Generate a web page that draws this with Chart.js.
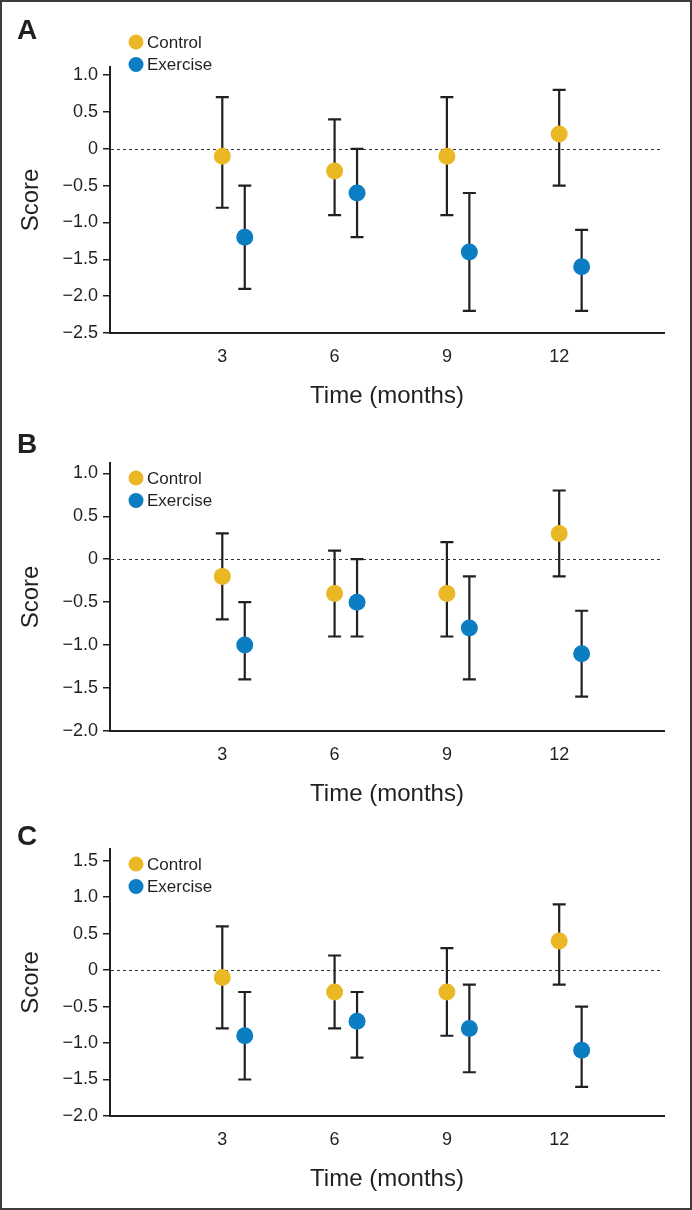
<!DOCTYPE html>
<html>
<head>
<meta charset="utf-8">
<title>Score over time</title>
<script src="https://cdn.jsdelivr.net/npm/chart.js@4.4.1/dist/chart.umd.min.js"></script>
<style>
  html, body { margin: 0; padding: 0; background: #fff; }
  #figure { position: relative; width: 692px; height: 1210px; overflow: hidden; font-family: 'Liberation Sans', Arial, sans-serif; }
  .panel { position: absolute; left: 0; width: 692px; }
  .panel canvas { display: block; }
  .letter { position: absolute; left: 17px; font-weight: bold; font-size: 28px; line-height: 1; color: #231f20; }
  #frame { position: absolute; left: 0; top: 0; right: 0; bottom: 0; border: 2px solid #3c3c3c; pointer-events: none; }
</style>
</head>
<body>
<div id="figure">
  <div class="panel" style="top:0;height:410px"><canvas id="chartA" width="692" height="410"></canvas></div>
  <div class="panel" style="top:410px;height:400px"><canvas id="chartB" width="692" height="400"></canvas></div>
  <div class="panel" style="top:810px;height:400px"><canvas id="chartC" width="692" height="400"></canvas></div>
  <div class="letter" style="top:16px">A</div>
  <div class="letter" style="top:430px">B</div>
  <div class="letter" style="top:822px">C</div>
  <div id="frame"></div>
</div>
<script>
// Time points (months); exercise group is drawn slightly to the right
const months = [3, 6, 9, 12];
const exerciseMonths = [3.6, 6.6, 9.6, 12.6];
const xTickValues = [3, 6, 9, 12];

// Panel A
const controlA = [-0.1, -0.3, -0.1, 0.2];
const controlALow = [-0.8, -0.9, -0.9, -0.5];
const controlAHigh = [0.7, 0.4, 0.7, 0.8];
const exerciseA = [-1.2, -0.6, -1.4, -1.6];
const exerciseALow = [-1.9, -1.2, -2.2, -2.2];
const exerciseAHigh = [-0.5, 0, -0.6, -1.1];
const yTicksA = [1.0, 0.5, 0, -0.5, -1.0, -1.5, -2.0, -2.5];

// Panel B
const controlB = [-0.2, -0.4, -0.4, 0.3];
const controlBLow = [-0.7, -0.9, -0.9, -0.2];
const controlBHigh = [0.3, 0.1, 0.2, 0.8];
const exerciseB = [-1.0, -0.5, -0.8, -1.1];
const exerciseBLow = [-1.4, -0.9, -1.4, -1.6];
const exerciseBHigh = [-0.5, 0, -0.2, -0.6];
const yTicksB = [1.0, 0.5, 0, -0.5, -1.0, -1.5, -2.0];

// Panel C
const controlC = [-0.1, -0.3, -0.3, 0.4];
const controlCLow = [-0.8, -0.8, -0.9, -0.2];
const controlCHigh = [0.6, 0.2, 0.3, 0.9];
const exerciseC = [-0.9, -0.7, -0.8, -1.1];
const exerciseCLow = [-1.5, -1.2, -1.4, -1.6];
const exerciseCHigh = [-0.3, -0.3, -0.2, -0.5];
const yTicksC = [1.5, 1.0, 0.5, 0, -0.5, -1.0, -1.5, -2.0];

const CONTROL_COLOR = '#E9B824';
const EXERCISE_COLOR = '#0B7DC2';
const INK = '#231f20';
const FONT = "'Liberation Sans', Arial, sans-serif";
const X_AXIS_HEIGHT = 75;

function toPoints(xs, ys) {
    return xs.map((x, i) => ({ x: x, y: ys[i] }));
}

function formatScore(v) {
    if (v === 0) return '0';
    return (v < 0 ? '\u2212' : '') + Math.abs(v).toFixed(1);
}

// error bars drawn under the markers
const errorBarPlugin = {
    id: 'errorBars',
    beforeDatasetsDraw(chart) {
        const ctx = chart.ctx;
        const yScale = chart.scales.y;
        ctx.save();
        ctx.strokeStyle = INK;
        ctx.lineWidth = 2.2;
        chart.data.datasets.forEach((ds, i) => {
            const meta = chart.getDatasetMeta(i);
            meta.data.forEach((pt, j) => {
                const yLo = yScale.getPixelForValue(ds.low[j]);
                const yHi = yScale.getPixelForValue(ds.high[j]);
                ctx.beginPath();
                ctx.moveTo(pt.x, yLo);
                ctx.lineTo(pt.x, yHi);
                ctx.moveTo(pt.x - 6.5, yLo);
                ctx.lineTo(pt.x + 6.5, yLo);
                ctx.moveTo(pt.x - 6.5, yHi);
                ctx.lineTo(pt.x + 6.5, yHi);
                ctx.stroke();
            });
        });
        ctx.restore();
    }
};

// dotted reference line at zero
const zeroLinePlugin = {
    id: 'zeroLine',
    beforeDatasetsDraw(chart) {
        const ctx = chart.ctx;
        const area = chart.chartArea;
        const y0 = Math.round(chart.scales.y.getPixelForValue(0)) + 0.5;
        ctx.save();
        ctx.strokeStyle = '#333';
        ctx.lineWidth = 1;
        ctx.setLineDash([3, 3]);
        ctx.beginPath();
        ctx.moveTo(area.left + 1, y0);
        ctx.lineTo(area.right - 4, y0);
        ctx.stroke();
        ctx.restore();
    }
};

function makeLegendPlugin(legendTop) {
    return {
        id: 'panelLegend',
        afterDraw(chart) {
            const ctx = chart.ctx;
            const left = chart.chartArea.left;
            ctx.save();
            ctx.font = '17px ' + FONT;
            ctx.textBaseline = 'middle';
            ctx.textAlign = 'left';
            chart.data.datasets.forEach((ds, i) => {
                const y = legendTop + i * 22.5;
                ctx.fillStyle = ds.backgroundColor;
                ctx.beginPath();
                ctx.arc(left + 26, y, 7.5, 0, Math.PI * 2);
                ctx.fill();
                ctx.fillStyle = INK;
                ctx.fillText(ds.label, left + 37, y + 1);
            });
            ctx.restore();
        }
    };
}

function buildPanel(canvasId, series, yTicks, yMin, yMax, box) {
    const canvas = document.getElementById(canvasId);
    return new Chart(canvas.getContext('2d'), {
        type: 'scatter',
        data: {
            datasets: [
                {
                    label: 'Control',
                    data: toPoints(months, series.control),
                    low: series.controlLow,
                    high: series.controlHigh,
                    backgroundColor: CONTROL_COLOR,
                    pointRadius: 8.5,
                    pointHoverRadius: 8.5,
                    borderWidth: 0
                },
                {
                    label: 'Exercise',
                    data: toPoints(exerciseMonths, series.exercise),
                    low: series.exerciseLow,
                    high: series.exerciseHigh,
                    backgroundColor: EXERCISE_COLOR,
                    pointRadius: 8.5,
                    pointHoverRadius: 8.5,
                    borderWidth: 0
                }
            ]
        },
        options: {
            responsive: false,
            animation: false,
            devicePixelRatio: 1,
            events: [],
            layout: {
                padding: { top: box.top, right: 28, left: 0, bottom: canvas.height - box.bottom - X_AXIS_HEIGHT }
            },
            plugins: {
                legend: { display: false },
                tooltip: { enabled: false }
            },
            scales: {
                x: {
                    type: 'linear',
                    min: 0,
                    max: 14.8,
                    afterBuildTicks: (s) => { s.ticks = xTickValues.map(v => ({ value: v })); },
                    afterFit: (s) => { s.height = X_AXIS_HEIGHT; },
                    grid: { display: false, drawTicks: false },
                    border: { display: true, color: INK, width: 2 },
                    ticks: { color: INK, padding: 13, font: { family: FONT, size: 18 } },
                    title: {
                        display: true,
                        text: 'Time (months)',
                        color: INK,
                        padding: 0,
                        font: { family: FONT, size: 24, lineHeight: 1 }
                    }
                },
                y: {
                    type: 'linear',
                    min: yMin,
                    max: yMax,
                    afterBuildTicks: (s) => { s.ticks = yTicks.map(v => ({ value: v })); },
                    afterFit: (s) => { s.width = 110; },
                    grid: { drawOnChartArea: false, drawTicks: true, tickLength: 7, color: INK, lineWidth: 1.5 },
                    border: { display: true, color: INK, width: 2 },
                    ticks: { color: INK, padding: 5, font: { family: FONT, size: 18 }, callback: formatScore },
                    title: {
                        display: true,
                        text: 'Score',
                        color: INK,
                        padding: { top: 17, bottom: 0 },
                        font: { family: FONT, size: 24 }
                    }
                }
            }
        },
        plugins: [zeroLinePlugin, errorBarPlugin, makeLegendPlugin(box.legendTop)]
    });
}

buildPanel('chartA', {
    control: controlA, controlLow: controlALow, controlHigh: controlAHigh,
    exercise: exerciseA, exerciseLow: exerciseALow, exerciseHigh: exerciseAHigh
}, yTicksA, -2.5, 1.11, { top: 67, bottom: 333, legendTop: 42 });

buildPanel('chartB', {
    control: controlB, controlLow: controlBLow, controlHigh: controlBHigh,
    exercise: exerciseB, exerciseLow: exerciseBLow, exerciseHigh: exerciseBHigh
}, yTicksB, -2.0, 1.12, { top: 53, bottom: 321, legendTop: 68 });

buildPanel('chartC', {
    control: controlC, controlLow: controlCLow, controlHigh: controlCHigh,
    exercise: exerciseC, exerciseLow: exerciseCLow, exerciseHigh: exerciseCHigh
}, yTicksC, -2.0, 1.66, { top: 39, bottom: 306, legendTop: 54 });
</script>
</body>
</html>
